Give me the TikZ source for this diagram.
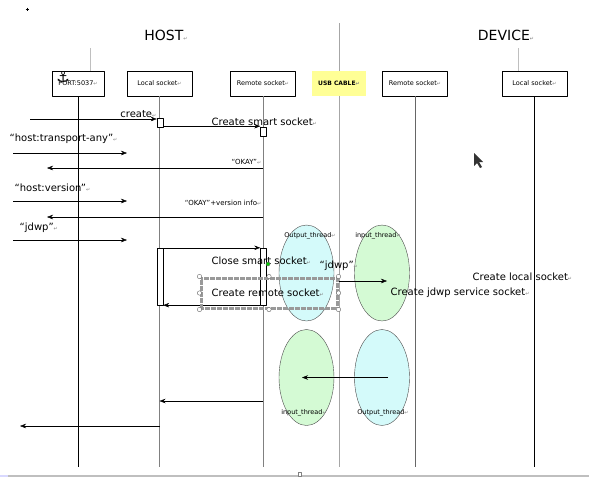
\documentclass[tikz,border=0pt]{standalone}
\usepackage{fontspec}
\setmainfont{DejaVu Sans}
\usetikzlibrary{arrows.meta,shapes.geometric}
\definecolor{cablefill}{RGB}{255,255,150}
\definecolor{threadcyan}{RGB}{212,250,250}
\definecolor{threadgreen}{RGB}{212,250,212}
\newcommand{\pmark}{\textcolor{gray}{\fontsize{5}{5}\selectfont ↵}}
\begin{document}
\begin{tikzpicture}[x=1pt,y=-1pt,>={Stealth[length=6pt,width=4.5pt]},line join=round,font=\fontsize{10}{12}\selectfont,
	head/.style={draw,minimum width=65pt,minimum height=25pt,inner sep=0pt,font=\fontsize{6.5}{7}\selectfont},
	act/.style={draw,fill=white,minimum width=6pt,minimum height=57pt,inner sep=0pt},
	thread/.style={draw=black!70,ellipse,minimum width=55pt,minimum height=96pt,inner sep=0pt},
	note/.style={font=\fontsize{6.5}{7}\selectfont,inner sep=0.5pt},
	okay/.style={font=\fontsize{7}{8}\selectfont,inner sep=0.5pt,anchor=east},
	msg/.style={inner sep=0.5pt,anchor=west}]
	\useasboundingbox (0,0) rectangle (589,477);
	% titles
	\node (host) at (166,35) {\fontsize{14}{16}\selectfont HOST\pmark};
	\node (device) at (506,35) {\fontsize{14}{16}\selectfont DEVICE\pmark};
	% the cable runs the whole height
	\path (339,23) coordinate (usbtop) (339,467) coordinate (usbend);
	\draw[gray!70,line width=0.8pt] (usbtop)--(usbend);
	% lifeline heads
	\node[head,minimum width=52pt] (port) at (78,83.5) {PORT:5037\pmark};
	\node[head] (hlocal) at (159.5,83.5) {Local socket\pmark};
	\node[head] (hremote) at (263,83.5) {Remote socket\pmark};
	\node[head,draw=none,fill=cablefill,minimum width=54pt,font=\fontsize{6}{7}\selectfont\bfseries] (usb) at (339,83.5) {USB CABLE\pmark};
	\node[head] (dremote) at (415,83.5) {Remote socket\pmark};
	\node[head] (dlocal) at (534.5,83.5) {Local socket\pmark};
	\node[inner sep=0pt] (anchor) at (63,77) {\fontsize{15}{15}\selectfont ⚓};
	\draw[gray!50] ([xshift=12pt]port.north)--++(0,-23);
	\draw[gray!50] ([xshift=-16.5pt]dlocal.north)--++(0,-23);
	\foreach \n/\c in {port/black,hlocal/gray,hremote/gray,dremote/black!60,dlocal/black}
		\draw[\c,line width=0.8pt] (\n.south)--(\n.south |- usbend);
	% threads
	\node[thread,fill=threadcyan] (hout) at (306.5,273) {};
	\node[thread,fill=threadgreen] (din) at (382,273) {};
	\node[thread,fill=threadgreen] (hin) at (306.5,377.5) {};
	\node[thread,fill=threadcyan] (dout) at (382,377.5) {};
	\node[note] (houtl) at (310,236) {Output\_thread\pmark};
	\node[note] (dinl) at (378,236) {input\_thread\pmark};
	\node[note] (hinl) at (304,413) {input\_thread\pmark};
	\node[note] (doutl) at (383,413) {Output\_thread\pmark};
	% activations
	\node[act,minimum height=9pt] (hact1) at (160,122.5) {};
	\node[act,minimum height=9pt] (ract1) at (263.5,131.5) {};
	\node[act] (hact2) at (160,276.5) {};
	\node[act] (ract2) at (263.5,276.5) {};
	% message ends
	\path (30,119) coordinate (c0) (0,126.2) coordinate (c1)
		(13,153) coordinate (t1) (127,153) coordinate (t1e)
		(47,168) coordinate (k1)
		(13,201) coordinate (t2) (127,201) coordinate (t2e)
		(47,217) coordinate (k2)
		(13,240) coordinate (t3) (127,240) coordinate (t3e)
		(337,281) coordinate (j1) (387,281) coordinate (j2)
		(0,401) coordinate (r1) (20,426) coordinate (r2);
	\draw[->] (c0)--(hact1.west |- c0);
	\draw[->] (hact1.east |- c1)--(ract1.west |- c1);
	\draw[->] (t1)--(t1e);
	\draw[->] (hremote |- k1)--(k1);
	\draw[->] (t2)--(t2e);
	\draw[->] (hremote |- k2)--(k2);
	\draw[->] (t3)--(t3e);
	\draw[->] (hact2.north east)--(ract2.north west);
	\draw[->] (ract2.south west)--(hact2.south east);
	\draw[->] (j1)--(j2);
	\draw[->] ([xshift=6pt]dout.center)--([xshift=-4.5pt]hin.center);
	\draw[->] (hremote |- r1)--(hlocal |- r1);
	\draw[->] (hlocal |- r2)--(r2);
	% labels
	\node[msg,anchor=east] (lcreate) at (157,114) {create\pmark};
	\node[msg] (lsmart) at (211,122) {Create smart socket\pmark};
	\node[msg] (ltrans) at (9,139) {“host:transport-any”\pmark};
	\node[okay] (lokay) at (262,162) {“OKAY”\pmark};
	\node[msg] (lver) at (14,188) {“host:version”\pmark};
	\node[okay] (lokver) at (262,203) {“OKAY”+version info\pmark};
	\node[msg] (ljdwp) at (19,228) {“jdwp”\pmark};
	\node[msg] (lclose) at (211,261) {Close smart socket\pmark};
	\node[msg] (ljdwp2) at (319,266) {“jdwp”\pmark};
	\node[msg] (lremote) at (211,293) {Create remote socket\pmark};
	\node[msg] (llocal) at (472,277) {Create local socket\pmark};
	\node[msg] (lservice) at (390,293) {Create jdwp service socket\pmark};
	% selection frame
	\node[draw=gray!80,line width=3pt,dash pattern=on 0.6pt off 0.6pt,minimum width=136pt,minimum height=30pt,inner sep=0pt] (frame) at (269,293) {};
	\foreach \a in {north west,north,north east,west,east,south west,south,south east}
		\draw[gray!80!black,fill=white] (frame.\a) circle (2.2pt);
	\draw[black!60,fill=green!80!black] (268,264) circle (2pt);
	% cursor and marks
	\fill[black!80] (474,153)--(474,166)--(477,163)--(480,168)--(482,167)--(479,162)--(483,162)--cycle;
	\draw[line width=0.6pt] (25.5,9)--(28.5,9) (27,7.5)--(27,10.5);
	\draw[blue!15,line width=2pt] (0,476)--(8,476);
	\draw[gray!50,line width=2pt] (8,476)--(589,476);
	\draw[gray,fill=white] (298.5,472.5) rectangle (301.5,476);
\end{tikzpicture}
\end{document}
